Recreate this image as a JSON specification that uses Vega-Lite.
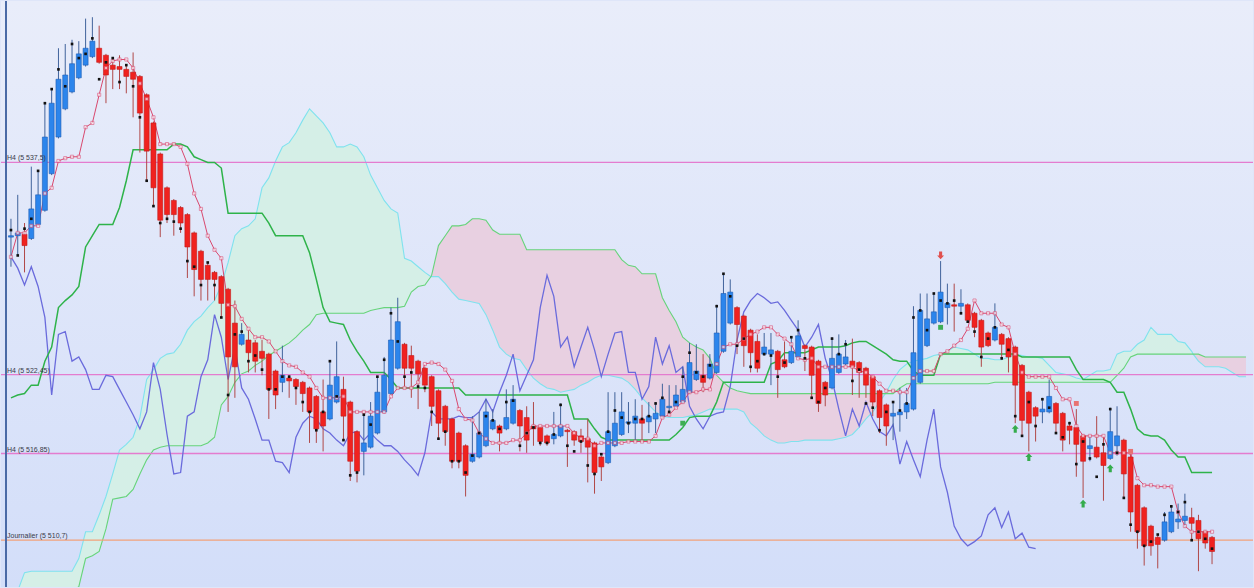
{
  "$schema": "https://vega.github.io/schema/vega-lite/v6.json",
  "description": "Ichimoku chart, H4 candles with tenkan, kijun, chikou and cloud",
  "width": 1254,
  "height": 588,
  "autosize": {"type": "fit", "contains": "padding"},
  "padding": 0,
  "background": "#dfe6f9",
  "config": {"view": {"stroke": null}},
  "datasets": {
    "bars": [
      {"i":0,"o":5532.2,"h":5533.5,"l":5530.1,"c":5532.3,"d":5532.7,"tk":5530.8,"kj":5520.8,"ck":5530.8},
      {"i":1,"o":5532.3,"h":5535.2,"l":5530.9,"c":5532.5,"d":5530.9,"tk":5532.5,"kj":5521.0,"ck":5530.0},
      {"i":2,"o":5532.4,"h":5533.2,"l":5529.7,"c":5531.6,"d":5532.8,"tk":5532.5,"kj":5521.1,"ck":5528.8},
      {"i":3,"o":5532.1,"h":5537.2,"l":5532.0,"c":5534.2,"d":5533.5,"tk":5533.0,"kj":5521.7,"ck":5530.1},
      {"i":4,"o":5533.1,"h":5536.9,"l":5533.0,"c":5535.2,"d":5536.9,"tk":5533.0,"kj":5521.7,"ck":5528.7},
      {"i":5,"o":5534.1,"h":5541.7,"l":5534.0,"c":5539.3,"d":5541.7,"tk":5535.3,"kj":5523.4,"ck":5526.5},
      {"i":6,"o":5536.7,"h":5542.7,"l":5536.6,"c":5541.7,"d":5542.7,"tk":5535.7,"kj":5524.4,"ck":5521.0},
      {"i":7,"o":5539.3,"h":5545.6,"l":5539.2,"c":5543.4,"d":5544.1,"tk":5537.6,"kj":5527.2,"ck":5525.3},
      {"i":8,"o":5541.3,"h":5545.9,"l":5541.2,"c":5543.7,"d":5542.9,"tk":5537.8,"kj":5527.7,"ck":5525.5},
      {"i":9,"o":5542.5,"h":5546.2,"l":5542.4,"c":5544.5,"d":5545.9,"tk":5537.9,"kj":5528.1,"ck":5523.4},
      {"i":10,"o":5543.5,"h":5546.1,"l":5543.4,"c":5545.2,"d":5544.9,"tk":5537.9,"kj":5528.7,"ck":5523.7},
      {"i":11,"o":5544.4,"h":5547.7,"l":5544.3,"c":5545.6,"d":5545.2,"tk":5540.0,"kj":5531.5,"ck":5522.8},
      {"i":12,"o":5545.0,"h":5547.8,"l":5544.9,"c":5546.1,"d":5546.3,"tk":5540.3,"kj":5532.3,"ck":5521.4},
      {"i":13,"o":5545.6,"h":5547.2,"l":5544.5,"c":5544.6,"d":5543.4,"tk":5542.3,"kj":5533.1,"ck":5521.4},
      {"i":14,"o":5545.1,"h":5545.2,"l":5541.7,"c":5543.7,"d":5544.6,"tk":5544.2,"kj":5533.1,"ck":5522.4},
      {"i":15,"o":5544.4,"h":5544.9,"l":5542.7,"c":5544.1,"d":5544.9,"tk":5544.7,"kj":5533.1,"ck":5522.3},
      {"i":16,"o":5544.3,"h":5545.1,"l":5542.7,"c":5544.1,"d":5543.2,"tk":5544.8,"kj":5534.3,"ck":5521.4},
      {"i":17,"o":5544.1,"h":5544.4,"l":5542.4,"c":5543.6,"d":5544.4,"tk":5544.8,"kj":5536.2,"ck":5520.5},
      {"i":18,"o":5543.9,"h":5545.3,"l":5540.7,"c":5543.4,"d":5542.9,"tk":5544.2,"kj":5538.4,"ck":5519.6},
      {"i":19,"o":5543.6,"h":5543.7,"l":5538.2,"c":5541.0,"d":5540.7,"tk":5543.1,"kj":5538.4,"ck":5518.6},
      {"i":20,"o":5542.3,"h":5542.4,"l":5536.2,"c":5538.3,"d":5536.2,"tk":5542.0,"kj":5538.4,"ck":5519.8},
      {"i":21,"o":5540.3,"h":5540.4,"l":5534.4,"c":5535.7,"d":5534.4,"tk":5540.7,"kj":5538.4,"ck":5523.3},
      {"i":22,"o":5538.1,"h":5538.2,"l":5532.2,"c":5533.4,"d":5533.2,"tk":5538.8,"kj":5538.4,"ck":5521.4},
      {"i":23,"o":5535.7,"h":5535.8,"l":5533.2,"c":5533.8,"d":5533.5,"tk":5538.8,"kj":5538.4,"ck":5518.2},
      {"i":24,"o":5534.8,"h":5534.9,"l":5532.3,"c":5533.8,"d":5533.3,"tk":5538.8,"kj":5538.8,"ck":5515.4},
      {"i":25,"o":5534.3,"h":5534.4,"l":5532.5,"c":5533.2,"d":5532.8,"tk":5538.6,"kj":5538.8,"ck":5515.5},
      {"i":26,"o":5533.8,"h":5533.9,"l":5529.3,"c":5531.5,"d":5530.5,"tk":5537.4,"kj":5538.6,"ck":5519.5},
      {"i":27,"o":5532.5,"h":5532.6,"l":5528.0,"c":5529.9,"d":5530.1,"tk":5535.3,"kj":5537.9,"ck":5519.8},
      {"i":28,"o":5531.2,"h":5531.3,"l":5527.7,"c":5529.2,"d":5528.8,"tk":5534.2,"kj":5537.7,"ck":5522.3},
      {"i":29,"o":5530.2,"h":5530.4,"l":5527.7,"c":5529.2,"d":5530.4,"tk":5532.3,"kj":5537.5,"ck":5523.5},
      {"i":30,"o":5529.7,"h":5529.8,"l":5527.7,"c":5529.2,"d":5528.8,"tk":5531.3,"kj":5537.5,"ck":5526.7},
      {"i":31,"o":5529.4,"h":5529.5,"l":5526.5,"c":5527.5,"d":5526.5,"tk":5530.7,"kj":5537.1,"ck":5525.1},
      {"i":32,"o":5528.5,"h":5528.6,"l":5519.8,"c":5523.7,"d":5521.0,"tk":5527.4,"kj":5533.9,"ck":5522.1},
      {"i":33,"o":5526.1,"h":5527.7,"l":5520.8,"c":5523.0,"d":5525.3,"tk":5527.3,"kj":5533.9,"ck":5524.4},
      {"i":34,"o":5524.6,"h":5526.1,"l":5524.5,"c":5525.3,"d":5525.5,"tk":5526.4,"kj":5533.9,"ck":5521.5},
      {"i":35,"o":5524.9,"h":5525.6,"l":5522.6,"c":5524.0,"d":5523.4,"tk":5525.7,"kj":5533.9,"ck":5520.7},
      {"i":36,"o":5524.7,"h":5524.9,"l":5522.6,"c":5523.4,"d":5523.8,"tk":5525.1,"kj":5533.9,"ck":5519.3},
      {"i":37,"o":5524.1,"h":5524.9,"l":5522.4,"c":5523.6,"d":5522.8,"tk":5525.1,"kj":5533.9,"ck":5517.8},
      {"i":38,"o":5523.9,"h":5524.0,"l":5519.3,"c":5521.4,"d":5521.4,"tk":5524.8,"kj":5533.2,"ck":5517.8},
      {"i":39,"o":5522.7,"h":5522.8,"l":5520.0,"c":5521.0,"d":5521.4,"tk":5524.1,"kj":5532.3,"ck":5516.3},
      {"i":40,"o":5521.9,"h":5524.5,"l":5521.2,"c":5522.4,"d":5522.3,"tk":5523.4,"kj":5532.3,"ck":5516.2},
      {"i":41,"o":5522.2,"h":5522.4,"l":5520.8,"c":5522.0,"d":5522.3,"tk":5523.1,"kj":5532.3,"ck":5515.5},
      {"i":42,"o":5522.1,"h":5522.2,"l":5520.3,"c":5521.6,"d":5521.5,"tk":5523.0,"kj":5532.3,"ck":5518.0},
      {"i":43,"o":5521.9,"h":5522.0,"l":5519.8,"c":5521.1,"d":5520.5,"tk":5522.6,"kj":5532.3,"ck":5519.0},
      {"i":44,"o":5521.5,"h":5521.6,"l":5517.6,"c":5519.8,"d":5519.8,"tk":5522.3,"kj":5531.1,"ck":5519.5},
      {"i":45,"o":5520.9,"h":5521.0,"l":5517.6,"c":5518.6,"d":5518.5,"tk":5521.5,"kj":5529.2,"ck":5519.3},
      {"i":46,"o":5519.8,"h":5522.1,"l":5517.0,"c":5518.8,"d":5519.8,"tk":5520.8,"kj":5527.2,"ck":5518.6},
      {"i":47,"o":5519.3,"h":5523.4,"l":5519.2,"c":5521.7,"d":5523.4,"tk":5520.8,"kj":5526.2,"ck":5518.3},
      {"i":48,"o":5520.5,"h":5524.8,"l":5520.4,"c":5522.3,"d":5520.9,"tk":5520.8,"kj":5526.1,"ck":5517.8},
      {"i":49,"o":5521.4,"h":5522.3,"l":5517.8,"c":5519.5,"d":5517.8,"tk":5520.9,"kj":5526.0,"ck":5517.4},
      {"i":50,"o":5520.5,"h":5520.6,"l":5514.9,"c":5516.3,"d":5515.3,"tk":5519.8,"kj":5524.9,"ck":5518.3},
      {"i":51,"o":5518.4,"h":5518.5,"l":5514.8,"c":5515.6,"d":5515.5,"tk":5519.8,"kj":5524.1,"ck":5518.4},
      {"i":52,"o":5517.0,"h":5519.6,"l":5515.3,"c":5517.6,"d":5519.6,"tk":5519.8,"kj":5523.4,"ck":5517.8},
      {"i":53,"o":5517.3,"h":5520.5,"l":5517.2,"c":5519.5,"d":5518.9,"tk":5519.8,"kj":5522.6,"ck":5518.3},
      {"i":54,"o":5518.3,"h":5522.3,"l":5518.2,"c":5521.2,"d":5522.3,"tk":5519.8,"kj":5522.6,"ck":5517.8},
      {"i":55,"o":5519.8,"h":5523.7,"l":5519.7,"c":5522.4,"d":5523.5,"tk":5519.8,"kj":5522.6,"ck":5517.4},
      {"i":56,"o":5521.1,"h":5527.2,"l":5521.0,"c":5524.9,"d":5526.8,"tk":5520.9,"kj":5522.1,"ck":5517.4},
      {"i":57,"o":5522.9,"h":5527.9,"l":5522.8,"c":5526.2,"d":5524.8,"tk":5521.5,"kj":5521.5,"ck":5517.0},
      {"i":58,"o":5524.6,"h":5524.7,"l":5521.6,"c":5522.9,"d":5522.3,"tk":5521.5,"kj":5521.5,"ck":5516.4},
      {"i":59,"o":5523.8,"h":5524.5,"l":5520.8,"c":5522.9,"d":5522.6,"tk":5521.5,"kj":5521.5,"ck":5515.9},
      {"i":60,"o":5523.4,"h":5523.5,"l":5520.0,"c":5522.5,"d":5521.6,"tk":5521.9,"kj":5521.5,"ck":5515.3},
      {"i":61,"o":5522.9,"h":5523.0,"l":5521.2,"c":5521.7,"d":5521.5,"tk":5523.2,"kj":5521.5,"ck":5516.9},
      {"i":62,"o":5522.3,"h":5522.4,"l":5518.8,"c":5520.2,"d":5519.8,"tk":5523.3,"kj":5521.5,"ck":5519.8},
      {"i":63,"o":5521.3,"h":5521.4,"l":5517.9,"c":5519.0,"d":5517.9,"tk":5523.2,"kj":5521.5,"ck":5519.3},
      {"i":64,"o":5520.2,"h":5520.3,"l":5517.4,"c":5518.4,"d":5518.4,"tk":5522.8,"kj":5521.5,"ck":5519.3},
      {"i":65,"o":5519.3,"h":5519.4,"l":5515.8,"c":5516.3,"d":5516.3,"tk":5522.0,"kj":5521.5,"ck":5519.3},
      {"i":66,"o":5518.3,"h":5518.4,"l":5515.8,"c":5516.3,"d":5516.3,"tk":5520.0,"kj":5521.5,"ck":5519.5},
      {"i":67,"o":5517.4,"h":5517.5,"l":5513.8,"c":5515.3,"d":5515.5,"tk":5519.3,"kj":5521.0,"ck":5519.4},
      {"i":68,"o":5516.3,"h":5519.5,"l":5516.2,"c":5516.8,"d":5516.7,"tk":5519.2,"kj":5521.0,"ck":5519.4},
      {"i":69,"o":5516.6,"h":5519.8,"l":5516.5,"c":5518.3,"d":5518.3,"tk":5518.3,"kj":5521.0,"ck":5519.8},
      {"i":70,"o":5517.4,"h":5520.7,"l":5517.3,"c":5519.8,"d":5519.5,"tk":5517.9,"kj":5521.0,"ck":5520.7},
      {"i":71,"o":5518.6,"h":5520.0,"l":5518.5,"c":5519.2,"d":5519.2,"tk":5517.6,"kj":5521.0,"ck":5519.8},
      {"i":72,"o":5518.8,"h":5518.9,"l":5517.0,"c":5518.3,"d":5518.6,"tk":5517.6,"kj":5521.0,"ck":5521.2},
      {"i":73,"o":5518.6,"h":5521.4,"l":5518.5,"c":5519.4,"d":5520.5,"tk":5517.6,"kj":5521.0,"ck":5522.4},
      {"i":74,"o":5519.0,"h":5521.7,"l":5518.9,"c":5520.7,"d":5520.6,"tk":5517.8,"kj":5521.0,"ck":5523.9},
      {"i":75,"o":5519.9,"h":5520.0,"l":5517.0,"c":5518.8,"d":5517.4,"tk":5517.8,"kj":5521.0,"ck":5521.3},
      {"i":76,"o":5519.4,"h":5520.2,"l":5516.9,"c":5517.8,"d":5518.3,"tk":5518.3,"kj":5521.0,"ck":5522.4},
      {"i":77,"o":5518.8,"h":5520.5,"l":5517.4,"c":5518.6,"d":5518.7,"tk":5518.8,"kj":5521.0,"ck":5523.5},
      {"i":78,"o":5518.7,"h":5518.8,"l":5517.4,"c":5517.7,"d":5517.6,"tk":5518.8,"kj":5521.0,"ck":5527.2},
      {"i":79,"o":5518.1,"h":5518.2,"l":5517.4,"c":5517.6,"d":5517.6,"tk":5518.8,"kj":5521.0,"ck":5529.5},
      {"i":80,"o":5517.9,"h":5519.8,"l":5517.5,"c":5518.2,"d":5518.2,"tk":5518.8,"kj":5521.0,"ck":5528.0},
      {"i":81,"o":5518.1,"h":5520.4,"l":5518.0,"c":5518.8,"d":5520.3,"tk":5518.8,"kj":5521.0,"ck":5524.4},
      {"i":82,"o":5518.5,"h":5518.6,"l":5515.9,"c":5518.4,"d":5517.4,"tk":5518.8,"kj":5521.0,"ck":5525.1},
      {"i":83,"o":5518.4,"h":5518.5,"l":5517.4,"c":5517.8,"d":5517.0,"tk":5518.3,"kj":5519.3,"ck":5523.0},
      {"i":84,"o":5518.1,"h":5518.6,"l":5516.9,"c":5517.7,"d":5517.7,"tk":5517.9,"kj":5519.3,"ck":5524.4},
      {"i":85,"o":5517.9,"h":5519.3,"l":5514.8,"c":5517.3,"d":5516.0,"tk":5517.9,"kj":5519.3,"ck":5525.8},
      {"i":86,"o":5517.6,"h":5517.7,"l":5514.0,"c":5515.5,"d":5515.4,"tk":5517.4,"kj":5518.6,"ck":5524.2},
      {"i":87,"o":5516.6,"h":5516.7,"l":5514.9,"c":5515.9,"d":5516.8,"tk":5517.6,"kj":5518.0,"ck":5522.3},
      {"i":88,"o":5516.2,"h":5521.2,"l":5516.1,"c":5518.4,"d":5518.4,"tk":5517.6,"kj":5517.8,"ck":5523.9},
      {"i":89,"o":5517.4,"h":5521.2,"l":5517.3,"c":5519.0,"d":5519.9,"tk":5517.6,"kj":5517.8,"ck":5525.4},
      {"i":90,"o":5518.2,"h":5521.2,"l":5518.1,"c":5519.8,"d":5519.4,"tk":5517.6,"kj":5517.8,"ck":5525.5},
      {"i":91,"o":5519.0,"h":5520.5,"l":5518.3,"c":5519.1,"d":5519.0,"tk":5517.7,"kj":5517.8,"ck":5522.6},
      {"i":92,"o":5519.0,"h":5520.7,"l":5517.8,"c":5519.5,"d":5519.3,"tk":5517.7,"kj":5517.8,"ck":5522.6},
      {"i":93,"o":5519.3,"h":5520.3,"l":5517.8,"c":5519.0,"d":5519.3,"tk":5517.7,"kj":5517.8,"ck":5520.7},
      {"i":94,"o":5519.1,"h":5520.5,"l":5518.3,"c":5519.5,"d":5519.5,"tk":5517.7,"kj":5517.8,"ck":5521.6},
      {"i":95,"o":5519.3,"h":5520.5,"l":5518.3,"c":5519.7,"d":5520.4,"tk":5518.1,"kj":5517.8,"ck":5525.1},
      {"i":96,"o":5519.5,"h":5521.8,"l":5519.4,"c":5520.7,"d":5520.8,"tk":5519.4,"kj":5517.8,"ck":5523.2},
      {"i":97,"o":5520.1,"h":5521.7,"l":5519.5,"c":5520.2,"d":5519.8,"tk":5519.6,"kj":5517.8,"ck":5524.5},
      {"i":98,"o":5520.2,"h":5521.7,"l":5520.1,"c":5521.0,"d":5520.5,"tk":5520.1,"kj":5518.2,"ck":5522.6},
      {"i":99,"o":5520.5,"h":5523.0,"l":5520.4,"c":5521.4,"d":5522.3,"tk":5520.5,"kj":5518.7,"ck":5523.0},
      {"i":100,"o":5521.2,"h":5524.7,"l":5521.1,"c":5523.3,"d":5524.0,"tk":5521.2,"kj":5519.4,"ck":5520.2},
      {"i":101,"o":5522.1,"h":5524.6,"l":5522.0,"c":5522.7,"d":5522.6,"tk":5521.2,"kj":5519.5,"ck":5519.3},
      {"i":102,"o":5522.4,"h":5523.9,"l":5521.2,"c":5521.9,"d":5522.3,"tk":5521.4,"kj":5519.5,"ck":5518.6},
      {"i":103,"o":5522.2,"h":5523.9,"l":5522.1,"c":5523.2,"d":5523.1,"tk":5521.4,"kj":5519.5,"ck":5519.5},
      {"i":104,"o":5522.6,"h":5527.4,"l":5522.5,"c":5525.4,"d":5527.3,"tk":5523.2,"kj":5520.5,"ck":5519.7},
      {"i":105,"o":5524.1,"h":5529.6,"l":5524.0,"c":5528.2,"d":5529.6,"tk":5524.4,"kj":5521.9,"ck":5519.8},
      {"i":106,"o":5526.1,"h":5529.2,"l":5526.0,"c":5528.3,"d":5528.0,"tk":5524.6,"kj":5521.9,"ck":5521.6},
      {"i":107,"o":5527.2,"h":5527.3,"l":5523.9,"c":5526.0,"d":5524.5,"tk":5524.6,"kj":5521.9,"ck":5524.9},
      {"i":108,"o":5526.6,"h":5526.7,"l":5523.0,"c":5524.5,"d":5525.0,"tk":5525.0,"kj":5521.9,"ck":5526.9},
      {"i":109,"o":5525.6,"h":5525.7,"l":5522.6,"c":5524.0,"d":5523.0,"tk":5525.3,"kj":5521.9,"ck":5527.7},
      {"i":110,"o":5524.8,"h":5525.3,"l":5522.6,"c":5522.9,"d":5523.4,"tk":5525.5,"kj":5521.9,"ck":5528.2},
      {"i":111,"o":5523.9,"h":5525.4,"l":5523.8,"c":5524.4,"d":5523.9,"tk":5525.8,"kj":5521.9,"ck":5527.9},
      {"i":112,"o":5523.9,"h":5525.4,"l":5521.7,"c":5524.2,"d":5523.8,"tk":5525.8,"kj":5523.2,"ck":5527.5},
      {"i":113,"o":5524.1,"h":5524.2,"l":5520.8,"c":5522.8,"d":5522.3,"tk":5525.3,"kj":5523.4,"ck":5527.6},
      {"i":114,"o":5523.5,"h":5524.8,"l":5522.9,"c":5523.0,"d":5523.3,"tk":5525.0,"kj":5524.0,"ck":5527.0},
      {"i":115,"o":5523.3,"h":5525.1,"l":5523.2,"c":5524.1,"d":5525.1,"tk":5524.6,"kj":5524.0,"ck":5526.3},
      {"i":116,"o":5523.7,"h":5526.3,"l":5523.6,"c":5525.2,"d":5525.6,"tk":5523.6,"kj":5524.0,"ck":5525.6},
      {"i":117,"o":5524.5,"h":5524.6,"l":5522.7,"c":5524.3,"d":5523.6,"tk":5523.5,"kj":5524.0,"ck":5524.4},
      {"i":118,"o":5524.4,"h":5524.5,"l":5520.8,"c":5522.4,"d":5520.8,"tk":5523.6,"kj":5524.2,"ck":5525.1},
      {"i":119,"o":5523.4,"h":5523.5,"l":5519.8,"c":5520.4,"d":5520.5,"tk":5523.0,"kj":5524.4,"ck":5526.0},
      {"i":120,"o":5521.9,"h":5522.0,"l":5520.2,"c":5521.0,"d":5521.5,"tk":5523.0,"kj":5524.4,"ck":5523.6},
      {"i":121,"o":5521.5,"h":5525.1,"l":5521.4,"c":5523.6,"d":5525.0,"tk":5523.0,"kj":5524.4,"ck":5522.1},
      {"i":122,"o":5522.6,"h":5525.3,"l":5522.5,"c":5523.9,"d":5523.9,"tk":5523.0,"kj":5524.4,"ck":5520.0},
      {"i":123,"o":5523.2,"h":5524.9,"l":5523.1,"c":5523.7,"d":5524.6,"tk":5523.0,"kj":5524.5,"ck":5518.1},
      {"i":124,"o":5523.4,"h":5525.0,"l":5521.0,"c":5523.0,"d":5522.0,"tk":5523.0,"kj":5524.7,"ck":5520.0},
      {"i":125,"o":5523.3,"h":5523.4,"l":5520.8,"c":5522.6,"d":5522.8,"tk":5522.7,"kj":5524.8,"ck":5518.8},
      {"i":126,"o":5522.9,"h":5523.0,"l":5520.8,"c":5521.7,"d":5520.4,"tk":5522.6,"kj":5524.8,"ck":5520.5},
      {"i":127,"o":5522.3,"h":5522.4,"l":5519.5,"c":5520.5,"d":5520.1,"tk":5522.3,"kj":5524.5,"ck":5519.3},
      {"i":128,"o":5521.3,"h":5521.4,"l":5518.3,"c":5519.4,"d":5518.5,"tk":5521.8,"kj":5524.2,"ck":5518.4},
      {"i":129,"o":5520.3,"h":5520.4,"l":5517.4,"c":5518.8,"d":5519.8,"tk":5521.3,"kj":5523.9,"ck":5518.1},
      {"i":130,"o":5519.5,"h":5520.5,"l":5517.8,"c":5519.7,"d":5520.5,"tk":5521.3,"kj":5523.5,"ck":5518.9},
      {"i":131,"o":5519.6,"h":5521.5,"l":5518.4,"c":5519.8,"d":5519.9,"tk":5521.2,"kj":5523.4,"ck":5516.1},
      {"i":132,"o":5519.8,"h":5521.5,"l":5519.3,"c":5520.4,"d":5520.4,"tk":5521.2,"kj":5523.4,"ck":5517.7},
      {"i":133,"o":5520.0,"h":5527.3,"l":5519.9,"c":5524.0,"d":5526.5,"tk":5522.2,"kj":5522.7,"ck":5516.4},
      {"i":134,"o":5521.9,"h":5528.2,"l":5521.8,"c":5527.0,"d":5527.0,"tk":5522.7,"kj":5522.4,"ck":5515.2},
      {"i":135,"o":5524.5,"h":5528.2,"l":5524.4,"c":5526.4,"d":5525.6,"tk":5522.7,"kj":5522.4,"ck":5517.8},
      {"i":136,"o":5526.1,"h":5528.2,"l":5526.0,"c":5526.9,"d":5528.2,"tk":5522.7,"kj":5522.4,"ck":5520.0},
      {"i":137,"o":5526.2,"h":5530.5,"l":5526.1,"c":5528.3,"d":5527.7,"tk":5523.9,"kj":5523.9,"ck":5515.9},
      {"i":138,"o":5527.2,"h":5528.9,"l":5526.0,"c":5527.5,"d":5527.5,"tk":5524.1,"kj":5523.9,"ck":5514.1},
      {"i":139,"o":5527.4,"h":5528.9,"l":5525.5,"c":5527.3,"d":5527.7,"tk":5524.5,"kj":5523.9,"ck":5511.7},
      {"i":140,"o":5527.3,"h":5528.5,"l":5526.7,"c":5527.5,"d":5526.8,"tk":5524.9,"kj":5523.9,"ck":5510.8},
      {"i":141,"o":5527.4,"h":5527.5,"l":5526.2,"c":5526.3,"d":5526.2,"tk":5525.7,"kj":5523.9,"ck":5510.3},
      {"i":142,"o":5526.8,"h":5526.9,"l":5525.1,"c":5525.8,"d":5525.5,"tk":5527.7,"kj":5523.9,"ck":5510.6},
      {"i":143,"o":5526.3,"h":5526.4,"l":5523.0,"c":5524.4,"d":5523.7,"tk":5526.8,"kj":5523.9,"ck":5511.0},
      {"i":144,"o":5525.4,"h":5525.5,"l":5524.4,"c":5524.5,"d":5525.0,"tk":5526.8,"kj":5523.9,"ck":5512.5},
      {"i":145,"o":5524.9,"h":5527.5,"l":5524.8,"c":5525.8,"d":5525.8,"tk":5526.8,"kj":5523.9,"ck":5513.0},
      {"i":146,"o":5525.3,"h":5525.4,"l":5523.5,"c":5524.6,"d":5523.6,"tk":5526.0,"kj":5523.9,"ck":5511.6},
      {"i":147,"o":5525.0,"h":5525.1,"l":5522.6,"c":5523.7,"d":5524.2,"tk":5525.8,"kj":5523.9,"ck":5512.7},
      {"i":148,"o":5524.4,"h":5524.5,"l":5519.0,"c":5521.7,"d":5519.5,"tk":5523.9,"kj":5523.9,"ck":5510.8},
      {"i":149,"o":5523.1,"h":5523.2,"l":5518.1,"c":5519.2,"d":5518.1,"tk":5522.6,"kj":5523.7,"ck":5511.2},
      {"i":150,"o":5521.2,"h":5521.3,"l":5517.0,"c":5519.0,"d":5520.5,"tk":5522.3,"kj":5523.7,"ck":5510.2},
      {"i":151,"o":5520.1,"h":5520.2,"l":5517.7,"c":5519.5,"d":5518.8,"tk":5522.3,"kj":5523.7,"ck":5510.1},
      {"i":152,"o":5519.8,"h":5520.8,"l":5519.0,"c":5520.0,"d":5520.7,"tk":5522.3,"kj":5523.7},
      {"i":153,"o":5519.8,"h":5522.1,"l":5519.7,"c":5520.9,"d":5520.1,"tk":5522.3,"kj":5523.7},
      {"i":154,"o":5520.4,"h":5520.5,"l":5518.3,"c":5519.0,"d":5518.3,"tk":5521.5,"kj":5523.7},
      {"i":155,"o":5519.7,"h":5519.8,"l":5517.0,"c":5517.8,"d":5518.0,"tk":5520.7,"kj":5523.7},
      {"i":156,"o":5518.8,"h":5519.1,"l":5517.5,"c":5518.5,"d":5519.0,"tk":5520.7,"kj":5523.7},
      {"i":157,"o":5518.7,"h":5520.0,"l":5515.2,"c":5517.5,"d":5516.1,"tk":5518.8,"kj":5522.8},
      {"i":158,"o":5518.1,"h":5518.2,"l":5513.7,"c":5516.3,"d":5517.7,"tk":5518.1,"kj":5522.1},
      {"i":159,"o":5517.2,"h":5518.1,"l":5516.3,"c":5517.4,"d":5516.5,"tk":5518.1,"kj":5522.1},
      {"i":160,"o":5517.3,"h":5519.5,"l":5516.5,"c":5516.6,"d":5515.2,"tk":5518.1,"kj":5522.1},
      {"i":161,"o":5516.9,"h":5518.0,"l":5513.5,"c":5516.0,"d":5517.5,"tk":5518.1,"kj":5522.1},
      {"i":162,"o":5516.5,"h":5520.1,"l":5516.4,"c":5518.4,"d":5520.0,"tk":5516.9,"kj":5521.9},
      {"i":163,"o":5517.4,"h":5520.2,"l":5516.7,"c":5518.1,"d":5516.9,"tk":5516.9,"kj":5521.2},
      {"i":164,"o":5517.8,"h":5517.9,"l":5513.7,"c":5515.4,"d":5513.7,"tk":5516.9,"kj":5521.2},
      {"i":165,"o":5516.6,"h":5517.0,"l":5511.3,"c":5512.7,"d":5511.8,"tk":5516.9,"kj":5520.0},
      {"i":166,"o":5514.6,"h":5514.7,"l":5510.1,"c":5511.3,"d":5511.3,"tk":5515.1,"kj":5518.6},
      {"i":167,"o":5513.0,"h":5513.1,"l":5508.9,"c":5510.3,"d":5510.3,"tk":5514.6,"kj":5518.2},
      {"i":168,"o":5511.7,"h":5511.8,"l":5509.6,"c":5510.3,"d":5510.6,"tk":5514.6,"kj":5518.1},
      {"i":169,"o":5510.9,"h":5511.0,"l":5508.7,"c":5510.4,"d":5511.1,"tk":5514.5,"kj":5518.1},
      {"i":170,"o":5510.7,"h":5512.7,"l":5510.6,"c":5512.0,"d":5512.5,"tk":5514.5,"kj":5517.8},
      {"i":171,"o":5511.3,"h":5513.2,"l":5511.2,"c":5512.7,"d":5513.1,"tk":5514.5,"kj":5517.1},
      {"i":172,"o":5512.0,"h":5513.3,"l":5511.5,"c":5512.2,"d":5512.7,"tk":5512.7,"kj":5516.6},
      {"i":173,"o":5512.1,"h":5514.0,"l":5511.6,"c":5512.4,"d":5513.4,"tk":5511.7,"kj":5516.6},
      {"i":174,"o":5512.3,"h":5513.0,"l":5510.7,"c":5511.9,"d":5510.7,"tk":5511.3,"kj":5515.5},
      {"i":175,"o":5512.1,"h":5512.5,"l":5508.5,"c":5510.8,"d":5511.3,"tk":5511.3,"kj":5515.5},
      {"i":176,"o":5511.3,"h":5511.4,"l":5510.1,"c":5510.5,"d":5510.8,"tk":5511.3,"kj":5515.5},
      {"i":177,"o":5510.9,"h":5511.0,"l":5509.0,"c":5509.9,"d":5510.1,"tk":5511.3,"kj":5515.5}
    ],
    "cloud": [
      {"i":-1,"a":5505.8,"b":5503.7,"s":1,"k":"up"},{"i":0,"a":5506.5,"b":5504.4,"s":1,"k":"up"},
      {"i":1,"a":5507.1,"b":5504.8,"s":1,"k":"up"},{"i":2,"a":5508.4,"b":5505.1,"s":1,"k":"up"},
      {"i":3,"a":5508.5,"b":5505.5,"s":1,"k":"up"},{"i":4,"a":5508.5,"b":5505.8,"s":1,"k":"up"},
      {"i":5,"a":5508.5,"b":5506.2,"s":1,"k":"up"},{"i":6,"a":5508.5,"b":5506.5,"s":1,"k":"up"},
      {"i":7,"a":5508.5,"b":5506.7,"s":1,"k":"up"},{"i":8,"a":5508.5,"b":5506.9,"s":1,"k":"up"},
      {"i":9,"a":5508.5,"b":5507.1,"s":1,"k":"up"},{"i":10,"a":5509.4,"b":5507.4,"s":1,"k":"up"},
      {"i":11,"a":5511.3,"b":5509.4,"s":1,"k":"up"},{"i":12,"a":5511.3,"b":5509.6,"s":1,"k":"up"},
      {"i":13,"a":5512.5,"b":5509.9,"s":1,"k":"up"},{"i":14,"a":5513.8,"b":5511.5,"s":1,"k":"up"},
      {"i":15,"a":5515.4,"b":5513.6,"s":1,"k":"up"},{"i":16,"a":5517.1,"b":5513.7,"s":1,"k":"up"},
      {"i":17,"a":5517.5,"b":5513.8,"s":1,"k":"up"},{"i":18,"a":5518.0,"b":5514.3,"s":1,"k":"up"},
      {"i":19,"a":5519.4,"b":5515.4,"s":1,"k":"up"},{"i":20,"a":5522.1,"b":5516.4,"s":1,"k":"up"},
      {"i":21,"a":5522.8,"b":5517.1,"s":1,"k":"up"},{"i":22,"a":5523.6,"b":5517.3,"s":1,"k":"up"},
      {"i":23,"a":5523.9,"b":5517.4,"s":1,"k":"up"},{"i":24,"a":5524.0,"b":5517.4,"s":1,"k":"up"},
      {"i":25,"a":5524.6,"b":5517.4,"s":1,"k":"up"},{"i":26,"a":5525.6,"b":5517.4,"s":1,"k":"up"},
      {"i":27,"a":5526.2,"b":5517.4,"s":1,"k":"up"},{"i":28,"a":5526.6,"b":5517.4,"s":1,"k":"up"},
      {"i":29,"a":5527.2,"b":5517.6,"s":1,"k":"up"},{"i":30,"a":5527.7,"b":5518.0,"s":1,"k":"up"},
      {"i":31,"a":5528.8,"b":5520.3,"s":1,"k":"up"},{"i":32,"a":5530.4,"b":5520.9,"s":1,"k":"up"},
      {"i":33,"a":5532.3,"b":5521.9,"s":1,"k":"up"},{"i":34,"a":5532.8,"b":5522.5,"s":1,"k":"up"},
      {"i":35,"a":5533.0,"b":5522.7,"s":1,"k":"up"},{"i":36,"a":5533.5,"b":5523.1,"s":1,"k":"up"},
      {"i":37,"a":5535.7,"b":5523.4,"s":1,"k":"up"},{"i":38,"a":5536.4,"b":5523.8,"s":1,"k":"up"},
      {"i":39,"a":5537.6,"b":5524.1,"s":1,"k":"up"},{"i":40,"a":5538.6,"b":5524.4,"s":1,"k":"up"},
      {"i":41,"a":5538.9,"b":5524.7,"s":1,"k":"up"},{"i":42,"a":5539.6,"b":5525.1,"s":1,"k":"up"},
      {"i":43,"a":5540.5,"b":5525.6,"s":1,"k":"up"},{"i":44,"a":5541.3,"b":5526.0,"s":1,"k":"up"},
      {"i":45,"a":5540.8,"b":5526.7,"s":1,"k":"up"},{"i":46,"a":5540.3,"b":5526.8,"s":1,"k":"up"},
      {"i":47,"a":5539.6,"b":5526.8,"s":1,"k":"up"},{"i":48,"a":5538.6,"b":5526.8,"s":1,"k":"up"},
      {"i":49,"a":5538.6,"b":5526.8,"s":1,"k":"up"},{"i":50,"a":5538.8,"b":5526.8,"s":1,"k":"up"},
      {"i":51,"a":5538.6,"b":5526.8,"s":1,"k":"up"},{"i":52,"a":5537.9,"b":5526.8,"s":1,"k":"up"},
      {"i":53,"a":5536.6,"b":5527.0,"s":1,"k":"up"},{"i":54,"a":5535.7,"b":5527.1,"s":1,"k":"up"},
      {"i":55,"a":5534.8,"b":5527.2,"s":1,"k":"up"},{"i":56,"a":5534.2,"b":5527.2,"s":1,"k":"up"},
      {"i":57,"a":5533.9,"b":5527.2,"s":1,"k":"up"},{"i":58,"a":5530.7,"b":5527.3,"s":1,"k":"up"},
      {"i":59,"a":5530.5,"b":5528.3,"s":1,"k":"up"},{"i":60,"a":5530.1,"b":5528.7,"s":1,"k":"up"},
      {"i":61,"a":5529.7,"b":5528.8,"s":1,"k":"up"},{"i":61.9,"a":5529.4,"b":5529.4,"s":1,"k":"up"},
      {"i":61.9,"a":5529.4,"b":5529.4,"s":2,"k":"down"},
      {"i":62,"a":5529.4,"b":5529.5,"s":2,"k":"down"},{"i":63,"a":5529.4,"b":5531.6,"s":2,"k":"down"},
      {"i":64,"a":5528.9,"b":5532.3,"s":2,"k":"down"},{"i":65,"a":5528.3,"b":5533.0,"s":2,"k":"down"},
      {"i":66,"a":5527.8,"b":5533.0,"s":2,"k":"down"},{"i":67,"a":5527.7,"b":5533.1,"s":2,"k":"down"},
      {"i":68,"a":5527.6,"b":5533.5,"s":2,"k":"down"},{"i":69,"a":5527.5,"b":5533.5,"s":2,"k":"down"},
      {"i":70,"a":5526.7,"b":5533.4,"s":2,"k":"down"},{"i":71,"a":5525.6,"b":5532.7,"s":2,"k":"down"},
      {"i":72,"a":5524.4,"b":5532.4,"s":2,"k":"down"},{"i":73,"a":5523.9,"b":5532.4,"s":2,"k":"down"},
      {"i":74,"a":5523.6,"b":5532.4,"s":2,"k":"down"},{"i":75,"a":5523.5,"b":5532.4,"s":2,"k":"down"},
      {"i":76,"a":5522.8,"b":5531.3,"s":2,"k":"down"},{"i":77,"a":5522.2,"b":5531.3,"s":2,"k":"down"},
      {"i":78,"a":5521.8,"b":5531.3,"s":2,"k":"down"},{"i":79,"a":5521.5,"b":5531.3,"s":2,"k":"down"},
      {"i":80,"a":5521.4,"b":5531.3,"s":2,"k":"down"},{"i":81,"a":5521.2,"b":5531.3,"s":2,"k":"down"},
      {"i":82,"a":5521.3,"b":5531.3,"s":2,"k":"down"},{"i":83,"a":5521.4,"b":5531.3,"s":2,"k":"down"},
      {"i":84,"a":5521.7,"b":5531.3,"s":2,"k":"down"},{"i":85,"a":5521.9,"b":5531.3,"s":2,"k":"down"},
      {"i":86,"a":5522.2,"b":5531.3,"s":2,"k":"down"},{"i":87,"a":5522.4,"b":5531.3,"s":2,"k":"down"},
      {"i":88,"a":5522.4,"b":5531.3,"s":2,"k":"down"},{"i":89,"a":5522.3,"b":5531.3,"s":2,"k":"down"},
      {"i":90,"a":5522.2,"b":5530.6,"s":2,"k":"down"},{"i":91,"a":5521.9,"b":5530.2,"s":2,"k":"down"},
      {"i":92,"a":5521.4,"b":5530.1,"s":2,"k":"down"},{"i":93,"a":5520.8,"b":5529.6,"s":2,"k":"down"},
      {"i":94,"a":5520.3,"b":5529.6,"s":2,"k":"down"},{"i":95,"a":5519.8,"b":5529.6,"s":2,"k":"down"},
      {"i":96,"a":5519.5,"b":5527.9,"s":2,"k":"down"},{"i":97,"a":5519.4,"b":5527.0,"s":2,"k":"down"},
      {"i":98,"a":5519.4,"b":5526.2,"s":2,"k":"down"},{"i":99,"a":5519.4,"b":5525.1,"s":2,"k":"down"},
      {"i":100,"a":5519.5,"b":5524.7,"s":2,"k":"down"},{"i":101,"a":5519.6,"b":5524.4,"s":2,"k":"down"},
      {"i":102,"a":5519.8,"b":5524.2,"s":2,"k":"down"},{"i":103,"a":5520.0,"b":5523.6,"s":2,"k":"down"},
      {"i":104,"a":5520.0,"b":5522.4,"s":2,"k":"down"},{"i":105,"a":5520.0,"b":5521.9,"s":2,"k":"down"},
      {"i":106,"a":5520.0,"b":5521.5,"s":2,"k":"down"},{"i":107,"a":5520.0,"b":5521.3,"s":2,"k":"down"},
      {"i":108,"a":5519.8,"b":5521.2,"s":2,"k":"down"},{"i":109,"a":5519.0,"b":5521.1,"s":2,"k":"down"},
      {"i":110,"a":5518.6,"b":5521.1,"s":2,"k":"down"},{"i":111,"a":5518.1,"b":5521.1,"s":2,"k":"down"},
      {"i":112,"a":5517.8,"b":5521.1,"s":2,"k":"down"},{"i":113,"a":5517.6,"b":5521.1,"s":2,"k":"down"},
      {"i":114,"a":5517.6,"b":5521.1,"s":2,"k":"down"},{"i":115,"a":5517.7,"b":5521.1,"s":2,"k":"down"},
      {"i":116,"a":5517.7,"b":5521.1,"s":2,"k":"down"},{"i":117,"a":5517.8,"b":5521.1,"s":2,"k":"down"},
      {"i":118,"a":5517.8,"b":5521.1,"s":2,"k":"down"},{"i":119,"a":5517.8,"b":5521.1,"s":2,"k":"down"},
      {"i":120,"a":5517.8,"b":5521.1,"s":2,"k":"down"},{"i":121,"a":5517.8,"b":5521.1,"s":2,"k":"down"},
      {"i":122,"a":5517.9,"b":5521.1,"s":2,"k":"down"},{"i":123,"a":5518.0,"b":5521.1,"s":2,"k":"down"},
      {"i":124,"a":5518.2,"b":5521.1,"s":2,"k":"down"},{"i":125,"a":5518.7,"b":5521.1,"s":2,"k":"down"},
      {"i":126,"a":5519.3,"b":5521.1,"s":2,"k":"down"},{"i":127,"a":5519.8,"b":5521.1,"s":2,"k":"down"},
      {"i":128,"a":5520.5,"b":5521.1,"s":2,"k":"down"},{"i":128.86,"a":5521.1,"b":5521.1,"s":2,"k":"down"},
      {"i":128.86,"a":5521.1,"b":5521.1,"s":3,"k":"up"},
      {"i":129,"a":5521.2,"b":5521.1,"s":3,"k":"up"},{"i":130,"a":5522.1,"b":5521.1,"s":3,"k":"up"},
      {"i":131,"a":5522.8,"b":5521.5,"s":3,"k":"up"},{"i":132,"a":5523.2,"b":5521.8,"s":3,"k":"up"},
      {"i":133,"a":5523.4,"b":5521.8,"s":3,"k":"up"},{"i":134,"a":5523.5,"b":5521.8,"s":3,"k":"up"},
      {"i":135,"a":5523.6,"b":5521.8,"s":3,"k":"up"},{"i":136,"a":5523.8,"b":5521.8,"s":3,"k":"up"},
      {"i":137,"a":5523.9,"b":5521.8,"s":3,"k":"up"},{"i":138,"a":5524.1,"b":5521.8,"s":3,"k":"up"},
      {"i":139,"a":5524.4,"b":5521.8,"s":3,"k":"up"},{"i":140,"a":5524.3,"b":5521.8,"s":3,"k":"up"},
      {"i":141,"a":5524.2,"b":5521.8,"s":3,"k":"up"},{"i":142,"a":5523.9,"b":5521.8,"s":3,"k":"up"},
      {"i":143,"a":5523.6,"b":5521.8,"s":3,"k":"up"},{"i":144,"a":5523.6,"b":5521.8,"s":3,"k":"up"},
      {"i":145,"a":5523.5,"b":5521.9,"s":3,"k":"up"},{"i":146,"a":5523.5,"b":5521.9,"s":3,"k":"up"},
      {"i":147,"a":5523.7,"b":5521.9,"s":3,"k":"up"},{"i":148,"a":5523.9,"b":5521.9,"s":3,"k":"up"},
      {"i":149,"a":5523.8,"b":5521.9,"s":3,"k":"up"},{"i":150,"a":5523.7,"b":5521.9,"s":3,"k":"up"},
      {"i":151,"a":5523.7,"b":5521.9,"s":3,"k":"up"},{"i":152,"a":5523.6,"b":5521.9,"s":3,"k":"up"},
      {"i":153,"a":5523.1,"b":5521.9,"s":3,"k":"up"},{"i":154,"a":5522.6,"b":5521.9,"s":3,"k":"up"},
      {"i":155,"a":5522.5,"b":5521.9,"s":3,"k":"up"},{"i":156,"a":5522.4,"b":5521.9,"s":3,"k":"up"},
      {"i":157,"a":5522.2,"b":5521.9,"s":3,"k":"up"},{"i":158,"a":5522.1,"b":5521.9,"s":3,"k":"up"},
      {"i":159,"a":5522.4,"b":5521.9,"s":3,"k":"up"},{"i":160,"a":5522.7,"b":5521.9,"s":3,"k":"up"},
      {"i":161,"a":5522.7,"b":5521.9,"s":3,"k":"up"},{"i":162,"a":5522.8,"b":5521.9,"s":3,"k":"up"},
      {"i":163,"a":5523.9,"b":5522.4,"s":3,"k":"up"},{"i":164,"a":5524.1,"b":5522.9,"s":3,"k":"up"},
      {"i":165,"a":5524.1,"b":5523.7,"s":3,"k":"up"},{"i":166,"a":5524.6,"b":5523.9,"s":3,"k":"up"},
      {"i":167,"a":5524.9,"b":5523.9,"s":3,"k":"up"},{"i":168,"a":5525.8,"b":5523.9,"s":3,"k":"up"},
      {"i":169,"a":5525.3,"b":5523.9,"s":3,"k":"up"},{"i":170,"a":5525.3,"b":5523.9,"s":3,"k":"up"},
      {"i":171,"a":5525.3,"b":5523.9,"s":3,"k":"up"},{"i":172,"a":5524.8,"b":5523.9,"s":3,"k":"up"},
      {"i":173,"a":5524.7,"b":5523.9,"s":3,"k":"up"},{"i":174,"a":5524.1,"b":5523.9,"s":3,"k":"up"},
      {"i":174.22,"a":5523.9,"b":5523.9,"s":3,"k":"up"},
      {"i":174.22,"a":5523.9,"b":5523.9,"s":4,"k":"down"},
      {"i":175,"a":5523.4,"b":5523.9,"s":4,"k":"down"},{"i":176,"a":5523.0,"b":5523.7,"s":4,"k":"down"},
      {"i":177,"a":5523.0,"b":5523.7,"s":4,"k":"down"},{"i":178,"a":5523.0,"b":5523.7,"s":4,"k":"down"},
      {"i":179,"a":5522.9,"b":5523.7,"s":4,"k":"down"},{"i":180,"a":5522.6,"b":5523.7,"s":4,"k":"down"},
      {"i":181,"a":5522.3,"b":5523.7,"s":4,"k":"down"},{"i":182,"a":5522.3,"b":5523.7,"s":4,"k":"down"}
    ],
    "levels": [
      {"p":5537.5,"t":"H4 (5 537,5)","k":"H4"},
      {"p":5522.45,"t":"H4 (5 522,45)","k":"H4"},
      {"p":5516.85,"t":"H4 (5 516,85)","k":"H4"},
      {"p":5510.7,"t":"Journalier (5 510,7)","k":"J"}
    ],
    "signals": [
      {"i":148,"p":5518.6,"k":"up"},
      {"i":150,"p":5516.6,"k":"up"},
      {"i":158,"p":5513.3,"k":"up"},
      {"i":162,"p":5515.8,"k":"up"},
      {"i":137,"p":5530.9,"k":"down"},
      {"i":137,"p":5525.8,"k":"gx"},
      {"i":99,"p":5519.0,"k":"gx"},
      {"i":157,"p":5520.4,"k":"rx"},
      {"i":165,"p":5517.0,"k":"rx"}
    ]
  },
  "layer": [
    {
      "data": {"values": [{}]},
      "mark": {
        "type": "rect",
        "color": {
          "gradient": "linear", "x1": 0, "y1": 0, "x2": 0, "y2": 1,
          "stops": [{"offset": 0, "color": "#e9edfa"}, {"offset": 1, "color": "#d3def9"}]
        }
      }
    },
    {
      "data": {"name": "cloud"},
      "mark": {"type": "area", "clip": true},
      "encoding": {
        "x": {"field": "i", "type": "quantitative", "scale": {"domain": [-0.73, 182.3], "nice": false, "zero": false}, "axis": null},
        "y": {"field": "a", "type": "quantitative", "scale": {"domain": [5507.38, 5548.95], "nice": false, "zero": false}, "axis": null},
        "y2": {"field": "b"},
        "color": {"field": "k", "type": "nominal", "scale": {"domain": ["up", "down"], "range": ["#d5efe7", "#e8d0e1"]}, "legend": null},
        "detail": {"field": "s"}
      }
    },
    {
      "data": {"name": "cloud"},
      "mark": {"type": "line", "clip": true, "color": "#7fe2ee", "strokeWidth": 1.1},
      "encoding": {
        "x": {"field": "i", "type": "quantitative", "scale": {"domain": [-0.73, 182.3], "nice": false, "zero": false}, "axis": null},
        "y": {"field": "a", "type": "quantitative", "scale": {"domain": [5507.38, 5548.95], "nice": false, "zero": false}, "axis": null}
      }
    },
    {
      "data": {"name": "cloud"},
      "mark": {"type": "line", "clip": true, "color": "#66d47a", "strokeWidth": 1.1},
      "encoding": {
        "x": {"field": "i", "type": "quantitative", "scale": {"domain": [-0.73, 182.3], "nice": false, "zero": false}, "axis": null},
        "y": {"field": "b", "type": "quantitative", "scale": {"domain": [5507.38, 5548.95], "nice": false, "zero": false}, "axis": null}
      }
    },
    {
      "data": {"name": "levels"},
      "mark": {"type": "rule", "strokeWidth": 1.3},
      "encoding": {
        "y": {"field": "p", "type": "quantitative", "scale": {"domain": [5507.38, 5548.95], "nice": false, "zero": false}, "axis": null},
        "color": {"condition": {"test": "datum.k === 'J'", "value": "#f2a27a"}, "value": "#e47ccf"}
      }
    },
    {
      "data": {"name": "bars"},
      "mark": {"type": "line", "clip": true, "color": "#6a6bdc", "strokeWidth": 1.3},
      "encoding": {
        "x": {"field": "i", "type": "quantitative", "scale": {"domain": [-0.73, 182.3], "nice": false, "zero": false}, "axis": null},
        "y": {"field": "ck", "type": "quantitative", "scale": {"domain": [5507.38, 5548.95], "nice": false, "zero": false}, "axis": null}
      }
    },
    {
      "data": {"name": "bars"},
      "mark": {"type": "line", "clip": true, "color": "#2eb34a", "strokeWidth": 1.5},
      "encoding": {
        "x": {"field": "i", "type": "quantitative", "scale": {"domain": [-0.73, 182.3], "nice": false, "zero": false}, "axis": null},
        "y": {"field": "kj", "type": "quantitative", "scale": {"domain": [5507.38, 5548.95], "nice": false, "zero": false}, "axis": null}
      }
    },
    {
      "data": {"name": "bars"},
      "mark": {"type": "line", "clip": true, "color": "#d9486e", "strokeWidth": 1},
      "encoding": {
        "x": {"field": "i", "type": "quantitative", "scale": {"domain": [-0.73, 182.3], "nice": false, "zero": false}, "axis": null},
        "y": {"field": "tk", "type": "quantitative", "scale": {"domain": [5507.38, 5548.95], "nice": false, "zero": false}, "axis": null}
      }
    },
    {
      "data": {"name": "bars"},
      "mark": {"type": "rule", "strokeWidth": 1},
      "encoding": {
        "x": {"field": "i", "type": "quantitative", "scale": {"domain": [-0.73, 182.3], "nice": false, "zero": false}, "axis": null},
        "y": {"field": "l", "type": "quantitative", "scale": {"domain": [5507.38, 5548.95], "nice": false, "zero": false}, "axis": null},
        "y2": {"field": "h"},
        "color": {"condition": {"test": "datum.c >= datum.o", "value": "#41639b"}, "value": "#b04848"}
      }
    },
    {
      "data": {"name": "bars"},
      "mark": {"type": "bar", "strokeWidth": 0.6},
      "encoding": {
        "x": {"field": "i", "type": "quantitative", "scale": {"domain": [-0.73, 182.3], "nice": false, "zero": false}, "axis": null},
        "y": {"field": "o", "type": "quantitative", "scale": {"domain": [5507.38, 5548.95], "nice": false, "zero": false}, "axis": null},
        "y2": {"field": "c"},
        "size": {"value": 5},
        "fill": {"condition": {"test": "datum.c >= datum.o", "value": "#2c85ec"}, "value": "#f0221f"},
        "stroke": {"condition": {"test": "datum.c >= datum.o", "value": "#1d5cb5"}, "value": "#c2191a"}
      }
    },
    {
      "data": {"name": "bars"},
      "mark": {"type": "point", "shape": "square", "filled": true, "fill": "#fbeef2", "stroke": "#d9486e", "strokeWidth": 0.8, "size": 10},
      "encoding": {
        "x": {"field": "i", "type": "quantitative", "scale": {"domain": [-0.73, 182.3], "nice": false, "zero": false}, "axis": null},
        "y": {"field": "tk", "type": "quantitative", "scale": {"domain": [5507.38, 5548.95], "nice": false, "zero": false}, "axis": null}
      }
    },
    {
      "data": {"name": "bars"},
      "mark": {"type": "point", "shape": "square", "filled": true, "color": "#111111", "size": 7, "opacity": 1},
      "encoding": {
        "x": {"field": "i", "type": "quantitative", "scale": {"domain": [-0.73, 182.3], "nice": false, "zero": false}, "axis": null},
        "y": {"field": "d", "type": "quantitative", "scale": {"domain": [5507.38, 5548.95], "nice": false, "zero": false}, "axis": null}
      }
    },
    {
      "data": {"name": "signals"},
      "transform": [{"filter": "datum.k === 'up'"}],
      "mark": {"type": "point", "shape": "M0,-1L0.9,0L0.4,0L0.4,1L-0.4,1L-0.4,0L-0.9,0Z", "filled": true, "color": "#34ac4c", "size": 60, "opacity": 1},
      "encoding": {
        "x": {"field": "i", "type": "quantitative", "scale": {"domain": [-0.73, 182.3], "nice": false, "zero": false}, "axis": null},
        "y": {"field": "p", "type": "quantitative", "scale": {"domain": [5507.38, 5548.95], "nice": false, "zero": false}, "axis": null}
      }
    },
    {
      "data": {"name": "signals"},
      "transform": [{"filter": "datum.k === 'down'"}],
      "mark": {"type": "point", "shape": "M0,1L0.9,0L0.4,0L0.4,-1L-0.4,-1L-0.4,0L-0.9,0Z", "filled": true, "color": "#e0504e", "size": 60, "opacity": 1},
      "encoding": {
        "x": {"field": "i", "type": "quantitative", "scale": {"domain": [-0.73, 182.3], "nice": false, "zero": false}, "axis": null},
        "y": {"field": "p", "type": "quantitative", "scale": {"domain": [5507.38, 5548.95], "nice": false, "zero": false}, "axis": null}
      }
    },
    {
      "data": {"name": "signals"},
      "transform": [{"filter": "datum.k === 'gx' || datum.k === 'rx'"}],
      "mark": {"type": "point", "shape": "square", "filled": true, "size": 24, "opacity": 1},
      "encoding": {
        "x": {"field": "i", "type": "quantitative", "scale": {"domain": [-0.73, 182.3], "nice": false, "zero": false}, "axis": null},
        "y": {"field": "p", "type": "quantitative", "scale": {"domain": [5507.38, 5548.95], "nice": false, "zero": false}, "axis": null},
        "fill": {"condition": {"test": "datum.k === 'gx'", "value": "#3fae55"}, "value": "#e87272"}
      }
    },
    {
      "data": {"name": "levels"},
      "mark": {"type": "text", "align": "left", "baseline": "bottom", "dy": -1, "dx": 1, "font": "Liberation Sans", "fontSize": 7, "color": "#3a3a48"},
      "encoding": {
        "x": {"datum": -0.73, "type": "quantitative", "scale": {"domain": [-0.73, 182.3], "nice": false, "zero": false}, "axis": null},
        "y": {"field": "p", "type": "quantitative", "scale": {"domain": [5507.38, 5548.95], "nice": false, "zero": false}, "axis": null},
        "text": {"field": "t"}
      }
    },
    {
      "data": {"values": [{}]},
      "mark": {"type": "rule", "color": "#4a6aa6", "strokeWidth": 2},
      "encoding": {
        "x": {"datum": -0.73, "type": "quantitative", "scale": {"domain": [-0.73, 182.3], "nice": false, "zero": false}, "axis": null}
      }
    }
  ]
}
